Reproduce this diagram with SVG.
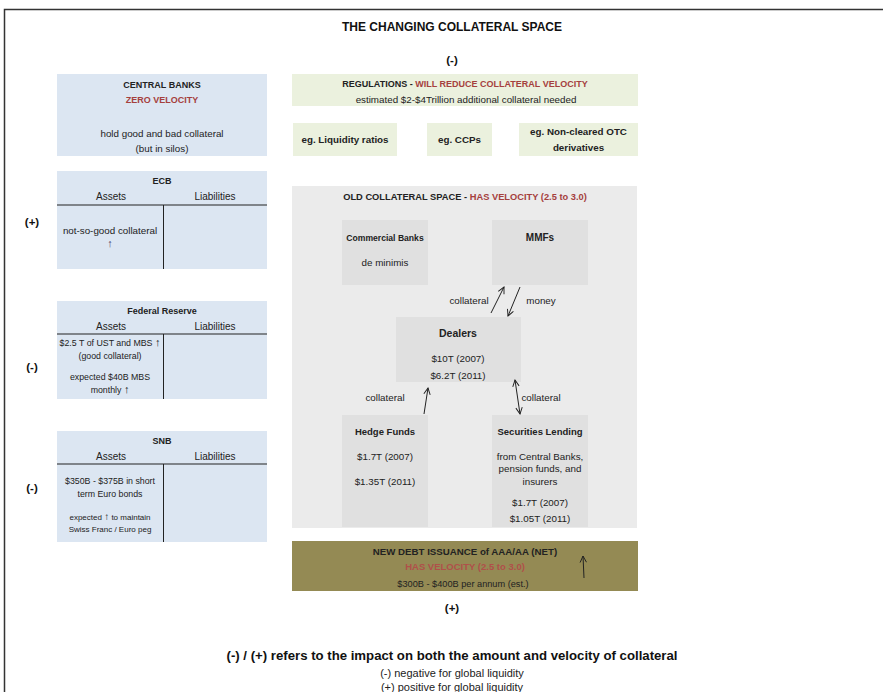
<svg xmlns="http://www.w3.org/2000/svg" width="883" height="692" viewBox="0 0 883 692">
<defs>
<style>
text{font-family:"Liberation Sans",Arial,sans-serif;fill:#222;text-anchor:middle}
.b{font-weight:bold}
.red{fill:#a5403d}
.t{font-size:12px;font-weight:bold;fill:#111}
.h{font-size:9px;font-weight:bold}
.hb{font-size:9.8px;font-weight:bold}
.s{font-size:9.8px}
.xs{font-size:8.8px}
.m{font-size:10px}
.up{font-size:11px}
.pm{font-size:11.5px;font-weight:bold;fill:#111}
.blue{fill:#dce6f2}
.green{fill:#ebf1de}
.gray{fill:#ebebeb}
.node{fill:#e0e0e0}
.olive{fill:#948a54}
.ln{stroke:#222;stroke-width:1;fill:none}
.conn{stroke:#222;stroke-width:1;fill:none}
</style>
<marker id="ah" viewBox="0 0 10 10" refX="9" refY="5" markerWidth="8" markerHeight="8" orient="auto-start-reverse" markerUnits="userSpaceOnUse">
<path d="M1,1 L9,5 L1,9" fill="none" stroke="#222" stroke-width="1.2"/>
</marker>
</defs>
<rect x="0" y="0" width="883" height="692" fill="#ffffff"/>
<path d="M4.5,692 V9.5 H883" stroke="#333" stroke-width="1.5" fill="none"/>

<g id="title">
<text class="t" x="452" y="31">THE CHANGING COLLATERAL SPACE</text>
<text class="pm" x="452" y="64">(-)</text>
</g>

<g id="central-banks">
<rect class="blue" x="57" y="74" width="210" height="82"/>
<text class="h" x="162" y="88">CENTRAL BANKS</text>
<text class="h red" x="162" y="103">ZERO VELOCITY</text>
<text class="s" x="162" y="137">hold good and bad collateral</text>
<text class="s" x="162" y="152">(but in silos)</text>
</g>

<g id="ecb">
<rect class="blue" x="57" y="171" width="210" height="98"/>
<text class="h" x="162" y="184">ECB</text>
<text class="m" x="111" y="200">Assets</text>
<text class="m" x="215" y="200">Liabilities</text>
<line class="ln" x1="57" y1="205" x2="267" y2="205"/>
<line class="ln" x1="163.5" y1="205" x2="163.5" y2="269"/>
<text class="s" x="110" y="234">not-so-good collateral</text>
<text class="up" x="110" y="247" style="fill:#4b3b6b">↑</text>
<text class="pm" x="32" y="226">(+)</text>
</g>

<g id="federal-reserve">
<rect class="blue" x="57" y="301" width="210" height="98"/>
<text class="h" x="162" y="314">Federal Reserve</text>
<text class="m" x="111" y="330">Assets</text>
<text class="m" x="215" y="330">Liabilities</text>
<line class="ln" x1="57" y1="334" x2="267" y2="334"/>
<line class="ln" x1="163.5" y1="334" x2="163.5" y2="399"/>
<text class="xs" x="110" y="346">$2.5 T of UST and MBS <tspan class="up">↑</tspan></text>
<text class="xs" x="110" y="359">(good collateral)</text>
<text class="xs" x="110" y="380">expected $40B MBS</text>
<text class="xs" x="110" y="393">monthly <tspan class="up">↑</tspan></text>
<text class="pm" x="32" y="371">(-)</text>
</g>

<g id="snb">
<rect class="blue" x="57" y="431" width="210" height="111"/>
<text class="h" x="162" y="444">SNB</text>
<text class="m" x="111" y="460">Assets</text>
<text class="m" x="215" y="460">Liabilities</text>
<line class="ln" x1="57" y1="464" x2="267" y2="464"/>
<line class="ln" x1="163.5" y1="464" x2="163.5" y2="542"/>
<text class="xs" x="110" y="484">$350B - $375B in short</text>
<text class="xs" x="110" y="497">term Euro bonds</text>
<text x="110" y="520" style="font-size:8px">expected <tspan style="font-size:10px">↑</tspan> to maintain</text>
<text x="110" y="532" style="font-size:8px">Swiss Franc / Euro peg</text>
<text class="pm" x="32" y="492">(-)</text>
</g>

<g id="regulations">
<rect class="green" x="292" y="74" width="346" height="32"/>
<text class="h" x="465" y="87">REGULATIONS - <tspan class="red">WILL REDUCE COLLATERAL VELOCITY</tspan></text>
<text class="s" x="466" y="103">estimated $2-$4Trillion additional collateral needed</text>
</g>

<g id="liquidity-ratios">
<rect class="green" x="293" y="123" width="104" height="33"/>
<text class="hb" x="345" y="143">eg. Liquidity ratios</text>
</g>
<g id="ccps">
<rect class="green" x="427" y="123" width="65" height="33"/>
<text class="hb" x="459.5" y="143">eg. CCPs</text>
</g>
<g id="otc">
<rect class="green" x="519" y="123" width="119" height="33"/>
<text class="hb" x="578.5" y="135">eg. Non-cleared OTC</text>
<text class="hb" x="578.5" y="151">derivatives</text>
</g>

<g id="old-collateral-space">
<rect class="gray" x="292" y="186" width="345" height="342"/>
<text class="h" x="465" y="200" style="font-size:9.3px">OLD COLLATERAL SPACE - <tspan class="red">HAS VELOCITY (2.5 to 3.0)</tspan></text>
</g>

<g id="commercial-banks">
<rect class="node" x="342" y="220" width="86" height="65"/>
<text class="h" x="385" y="241" style="font-size:8.6px">Commercial Banks</text>
<text class="s" x="385" y="266">de minimis</text>
</g>

<g id="mmfs">
<rect class="node" x="492" y="220" width="96" height="65"/>
<text class="h" x="540" y="241" style="font-size:10px">MMFs</text>
</g>

<g id="dealers">
<rect class="node" x="396" y="317" width="125" height="65"/>
<text class="h" x="458" y="337" style="font-size:10.5px">Dealers</text>
<text class="s" x="458" y="362">$10T (2007)</text>
<text class="s" x="458" y="379">$6.2T (2011)</text>
</g>

<g id="hedge-funds">
<rect class="node" x="342" y="415" width="86" height="112"/>
<text class="h" x="385" y="435" style="font-size:9.5px">Hedge Funds</text>
<text class="s" x="385" y="460">$1.7T (2007)</text>
<text class="s" x="385" y="485">$1.35T (2011)</text>
</g>

<g id="securities-lending">
<rect class="node" x="492" y="415" width="96" height="112"/>
<text class="h" x="540" y="435" style="font-size:9.5px">Securities Lending</text>
<text class="s" x="540" y="460">from Central Banks,</text>
<text class="s" x="540" y="472">pension funds, and</text>
<text class="s" x="540" y="485">insurers</text>
<text class="s" x="540" y="506">$1.7T (2007)</text>
<text class="s" x="540" y="522">$1.05T (2011)</text>
</g>

<g id="connectors">
<line class="conn" x1="491" y1="313" x2="504" y2="287" marker-end="url(#ah)"/>
<line class="conn" x1="520" y1="287" x2="508" y2="316" marker-end="url(#ah)"/>
<line class="conn" x1="424" y1="414" x2="428" y2="388" marker-end="url(#ah)"/>
<line class="conn" x1="515" y1="380" x2="520" y2="414" marker-start="url(#ah)" marker-end="url(#ah)"/>
<text class="s" x="469" y="304">collateral</text>
<text class="s" x="541" y="304">money</text>
<text class="s" x="385" y="401">collateral</text>
<text class="s" x="541" y="401">collateral</text>
</g>

<g id="new-debt">
<rect class="olive" x="292" y="541" width="346" height="50"/>
<text class="h" x="465" y="555" style="font-size:9.7px">NEW DEBT ISSUANCE of AAA/AA (NET)</text>
<text class="h" x="465" y="570" style="font-size:9.5px;fill:#b0504a">HAS VELOCITY (2.5 to 3.0)</text>
<text class="xs" x="463" y="587" style="font-size:9.2px">$300B - $400B per annum (est.)</text>
<line class="conn" x1="584" y1="578" x2="583" y2="556" marker-end="url(#ah)"/>
</g>

<text class="pm" x="452" y="612">(+)</text>

<g id="legend">
<text x="452" y="660" style="font-size:13.2px;font-weight:bold;fill:#111">(-) / (+) refers to the impact on both the amount and velocity of collateral</text>
<text x="452" y="677" style="font-size:11px">(-) negative for global liquidity</text>
<text x="452" y="691" style="font-size:11px">(+) positive for global liquidity</text>
</g>
</svg>
